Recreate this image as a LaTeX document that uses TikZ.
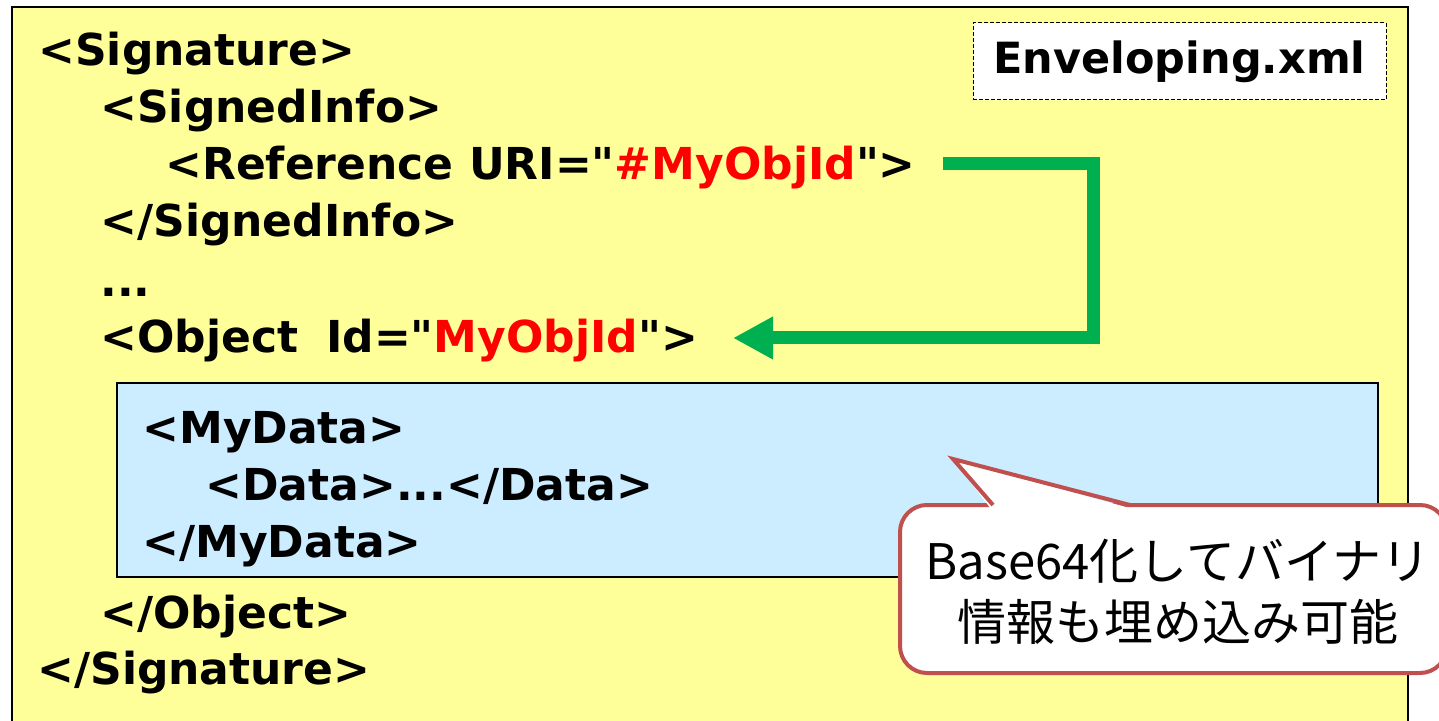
\documentclass[tikz,border=0pt]{standalone}
\usepackage{fontspec}
\setmainfont{DejaVu Sans}
\newfontfamily\xmlfont{DejaVu Sans}
\newfontfamily\cjk{Noto Sans CJK JP}
\usetikzlibrary{arrows.meta}
\definecolor{yel}{HTML}{FFFF99}
\definecolor{blu}{HTML}{CCECFF}
\definecolor{grn}{HTML}{00B050}
\definecolor{calloutred}{HTML}{C0504D}
\definecolor{xmlred}{HTML}{FF0000}
\begin{document}
\begin{tikzpicture}[x=0.5pt,y=-0.5pt,
  xml/.style={anchor=base west, inner sep=0pt, font=\xmlfont\bfseries\fontsize{22pt}{26pt}\selectfont},
  filebox/.style={draw, dash pattern=on 2pt off 1pt, line width=0.5pt, fill=white, inner sep=0pt,
    minimum width=206.5pt, minimum height=38.5pt, font=\xmlfont\bfseries\fontsize{21.5pt}{26pt}\selectfont},
  outerbox/.style={draw=black, fill=yel, line width=1.2pt},
  databox/.style={draw=black, fill=blu, line width=0.9pt},
  refarrow/.style={draw=grn, line width=6.5pt, line join=miter, -{Triangle[length=20pt,width=20pt]}},
  calloutline/.style={draw=calloutred, line width=2pt},
  cjkt/.style={anchor=base, inner sep=0pt, font=\cjk\fontsize{24.5pt}{30pt}\selectfont}
]
\useasboundingbox (0,0) rectangle (1439,721);
\fill[white] (0,0) rectangle (1439,721);
\draw[outerbox] (12,7) rectangle (1408,745);
\node[filebox] (file) at (1179.5,61.5) {\raisebox{-1.5pt}{Enveloping.xml}};

\node[xml] (sig) at (38,66) {<Signature>};
\node[xml] (si) at (100,123) {<SignedInfo>};
\node[xml] (ref) at (165,180) {<Reference URI="\textcolor{xmlred}{\#MyObjId}">};
\node[xml] (esi) at (100,237) {</SignedInfo>};
\node[xml] (dots) at (100,297) {...};
\node[xml] (obj) at (100,353) {<Object\hspace{14pt}Id="\textcolor{xmlred}{MyObjId}">};

\draw[databox] (117,383) rectangle (1378,577);
\node[xml] (md) at (142,443) {<MyData>};
\node[xml] (dd) at (205,500) {<Data>...</Data>};
\node[xml] (emd) at (142,557) {</MyData>};
\node[xml] (eo) at (100,628) {</Object>};
\node[xml] (es) at (37,684) {</Signature>};

\coordinate (refout) at (943,164);
\coordinate (objin) at (733,338);
\draw[refarrow] (refout) -- (1093,164) -- (1093,338) -- (objin);

\draw[calloutline, fill=white, rounded corners=13.5pt] (900,505) rectangle (1447,673);
\fill[white] (991,509) -- (953,459) -- (1133,509) -- cycle;
\draw[calloutline, line join=miter] (993,505) -- (953,459) -- (1130,505);
\node[cjkt] (c1) at (1178,579) {Base64化してバイナリ};
\node[cjkt] (c2) at (1178,640) {情報も埋め込み可能};
\end{tikzpicture}
\end{document}
